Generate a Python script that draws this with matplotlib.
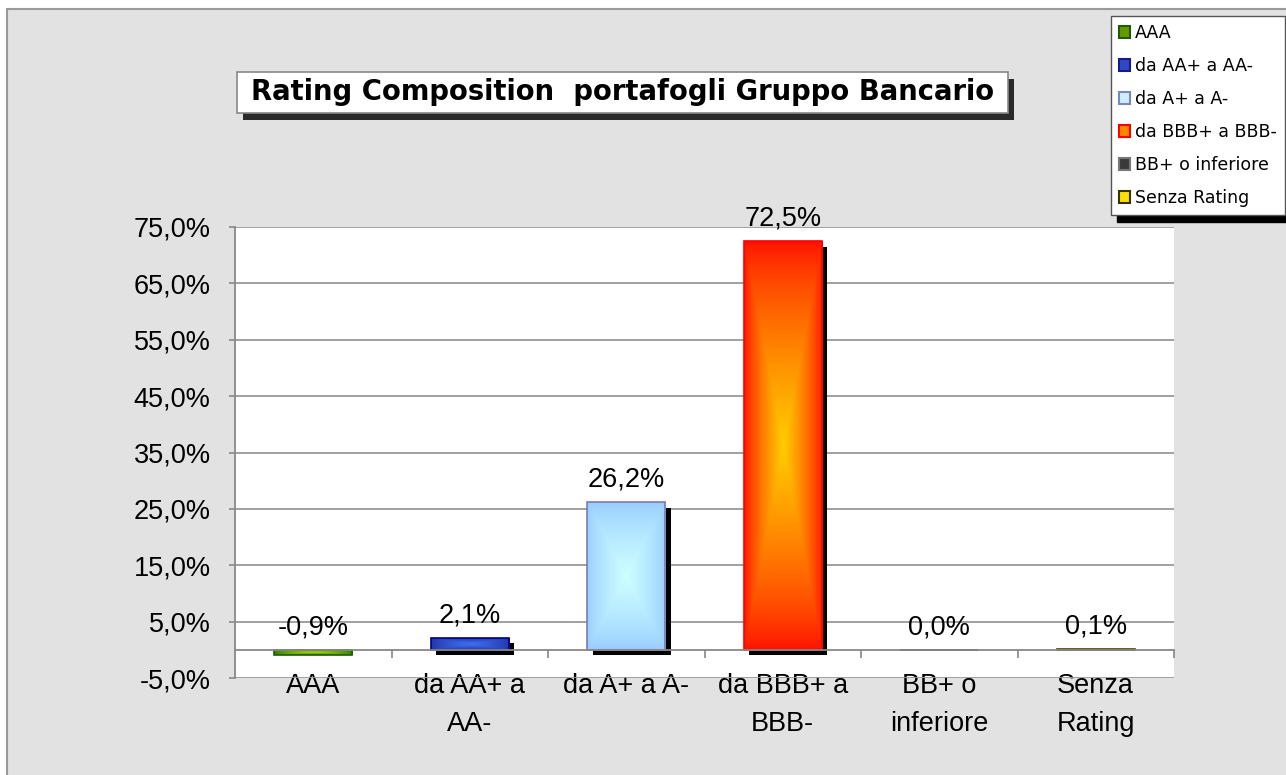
import numpy as np
import matplotlib
matplotlib.use("Agg")
import matplotlib.pyplot as plt
from matplotlib.patches import Rectangle, Patch
from matplotlib.colors import LinearSegmentedColormap
from matplotlib.transforms import ScaledTranslation
from matplotlib.ticker import FuncFormatter

categories = ["AAA", "da AA+ a\nAA-", "da A+ a A-", "da BBB+ a\nBBB-", "BB+ o\ninferiore", "Senza\nRating"]
legend_labels = ["AAA", "da AA+ a AA-", "da A+ a A-", "da BBB+ a BBB-", "BB+ o inferiore", "Senza Rating"]
values = [-0.9, 2.1, 26.2, 72.5, 0.0, 0.1]
y_ticks = [-5, 5, 15, 25, 35, 45, 55, 65, 75]

# gradient colours per bar: outer edge of fill, centre of fill, outline
outer_cols = ["#2f7d00", "#2232a8", "#99ccff", "#ff1000", "#333333", "#ffcc00"]
centre_cols = ["#a8d400", "#3f70f2", "#ccffff", "#ffcc00", "#666666", "#ffff66"]
edge_cols = ["#1f5c00", "#000080", "#7a7ab8", "#ff0000", "#222222", "#4d4000"]
legend_face = ["#669900", "#2e48c8", "#cceeff", "#ff8800", "#3a3a3a", "#ffdd00"]
legend_edge = ["#1f5c00", "#1a1a80", "#7a88bb", "#ff0000", "#777777", "#333300"]

W, H = 1286, 775
VERDANA = "DejaVu Sans"
plt.rcParams["font.family"] = ["Liberation Sans", "DejaVu Sans"]


def pct(v, pos=None):
    return f"{v:.1f}%".replace(".", ",")


fig = plt.figure(figsize=(W / 100, H / 100), dpi=100, facecolor="white")

# chart area background (flat grey instead of the granite texture)
fig.patches.append(Rectangle((7 / W, -0.05), 1.1, (H - 9) / H + 0.05, transform=fig.transFigure,
                             facecolor="#e2e2e2", edgecolor="#9a9a9a", linewidth=1.5, zorder=-5))

ax = fig.add_axes([235 / W, (H - 678) / H, (1174 - 235) / W, (678 - 227) / H])
ax.set_facecolor("white")
ax.set_axisbelow(True)

x = np.arange(len(categories))
bw = 0.5

# shadows (only for positive bars)
shadow_tr = ax.transData + ScaledTranslation(0.055, -0.055, fig.dpi_scale_trans)
ax.bar(x, np.clip(values, 0, None), width=bw, color="black", zorder=2, transform=shadow_tr)

bars = ax.bar(x, values, width=bw, color=outer_cols, zorder=3, linewidth=0)

u = np.linspace(-1, 1, 200)
uu, vv = np.meshgrid(u, u)
grad = (1 - np.maximum(np.abs(uu), np.abs(vv))) ** 0.75
for i, p in enumerate(bars.patches):
    if abs(p.get_height()) < 1e-9:
        continue
    cmap = LinearSegmentedColormap.from_list(f"g{i}", [outer_cols[i], centre_cols[i]])
    im = ax.imshow(grad, extent=[p.get_x(), p.get_x() + p.get_width(), p.get_y(), p.get_y() + p.get_height()],
                   cmap=cmap, origin="lower", aspect="auto", zorder=3.1, interpolation="bilinear")
    im.set_clip_path(p)

ax.bar(x, values, width=bw, facecolor="none", edgecolor=edge_cols, linewidth=1.2, zorder=3.2)

for i, v in enumerate(values):
    ax.annotate(pct(v), xy=(i, max(v, 0)), xytext=(0, 11), textcoords="offset points",
                ha="center", va="baseline", fontsize=19.5, color="black", zorder=5)

ax.set_xlim(-0.5, len(categories) - 0.5)
ax.set_ylim(-5, 75)
ax.set_yticks(y_ticks)
ax.yaxis.set_major_formatter(FuncFormatter(pct))
ax.yaxis.grid(True, color="#999999", linewidth=1.3)

ax.set_xticks(x)
ax.set_xticks(x + 0.5, minor=True)
ax.set_xticklabels(categories)
ax.tick_params(axis="x", which="major", length=0, pad=17, labelsize=19.5)
ax.tick_params(axis="x", which="minor", length=6, width=1.2, color="#888888", direction="out")
ax.tick_params(axis="y", length=4.5, width=1.2, color="#888888", pad=13, labelsize=19.5)

ax.spines["bottom"].set_position(("data", 0))
ax.spines["bottom"].set_color("#888888")
ax.spines["bottom"].set_linewidth(1.3)
ax.spines["bottom"].set_zorder(3.5)
ax.spines["left"].set_color("#888888")
ax.spines["left"].set_linewidth(1.3)
ax.spines["top"].set_visible(False)
ax.spines["right"].set_visible(False)

# title box with shadow
bx0, by0, bw_, bh_ = 237, H - 113, 771, 41
fig.patches.append(Rectangle(((bx0 + 6) / W, (by0 - 7) / H), bw_ / W, bh_ / H, transform=fig.transFigure,
                             facecolor="#2a2a2a", edgecolor="none", zorder=1))
fig.patches.append(Rectangle((bx0 / W, by0 / H), bw_ / W, bh_ / H, transform=fig.transFigure,
                             facecolor="white", edgecolor="#888888", linewidth=1.2, zorder=2))
fig.text((bx0 + bw_ / 2) / W, (by0 + bh_ / 2) / H, "Rating Composition  portafogli Gruppo Bancario",
         ha="center", va="center", fontsize=19.8, fontweight="bold", family=VERDANA, zorder=3)

handles = [Patch(facecolor=legend_face[i], edgecolor=legend_edge[i], linewidth=1.5) for i in range(len(values))]
leg = fig.legend(handles, legend_labels, loc="upper left", bbox_to_anchor=(1111 / W, 1 - 16 / H),
                 prop={"family": VERDANA, "size": 12.5}, frameon=True, fancybox=False,
                 edgecolor="#555555", framealpha=1, borderaxespad=0, borderpad=0.45,
                 handlelength=0.65, handleheight=0.65, handletextpad=0.3, labelspacing=0.87,
                 shadow={"ox": 4, "oy": -5, "color": "black", "alpha": 1})
leg.get_frame().set_linewidth(1.0)

fig.canvas.draw()
for lab in ax.get_xticklabels():
    lab.set_linespacing(1.6)

fig.savefig("out.png", dpi=100, facecolor=fig.get_facecolor())
